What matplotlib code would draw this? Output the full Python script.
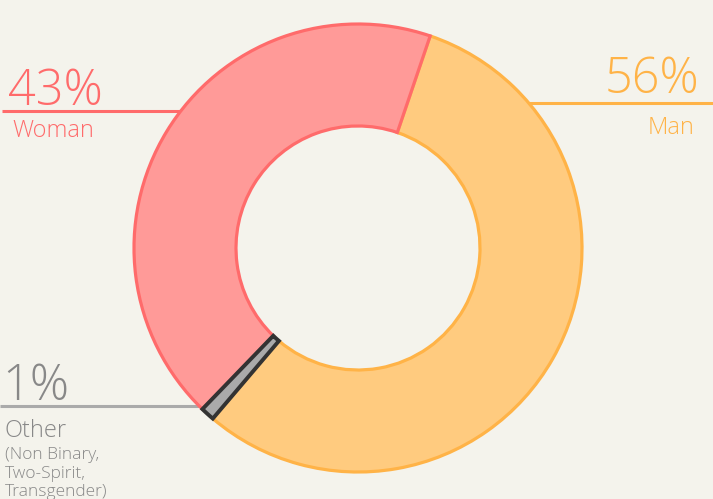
import matplotlib
matplotlib.use("Agg")
import matplotlib.pyplot as plt

# data
labels = ["Man", "Other", "Woman"]
shares = [56, 1, 43]
face_colors = ["#ffcb7f", "#aaaaaa", "#ff9a98"]
edge_colors = ["#ffb347", "#333333", "#ff6b6b"]
pct_labels = ["56%", "1%", "43%"]

bg = "#f4f3ec"
W, H = 713, 499

fig = plt.figure(figsize=(W / 100, H / 100), dpi=100, facecolor=bg)
ax = fig.add_axes([0, 0, 1, 1])
ax.set_facecolor(bg)

cx, cy = 358, H - 248

# leader lines behind the ring
ax.plot([2, 185], [H - 111, H - 111], color="#ff6b6b", lw=2.2, zorder=1, solid_capstyle="butt")
ax.plot([528, 713], [H - 103, H - 103], color="#ffb347", lw=2.2, zorder=1, solid_capstyle="butt")
ax.plot([0, 200], [H - 406, H - 406], color="#aaaaaa", lw=2.2, zorder=1, solid_capstyle="butt")

wedges, _ = ax.pie(shares, center=(cx, cy), radius=224, startangle=71.2,
                   counterclock=False, colors=face_colors,
                   wedgeprops=dict(width=102, linewidth=2.3), frame=True)
for w, ec in zip(wedges, edge_colors):
    w.set_edgecolor(ec)
    w.set_zorder(2)
wedges[1].set_linewidth(2.8)
wedges[1].set_zorder(3)

ax.set_xlim(0, W)
ax.set_ylim(0, H)
ax.set_aspect("equal")
ax.axis("off")

fam = ["Open Sans", "DejaVu Sans"]
big = dict(fontsize=35, family=fam, fontweight="light")
mid = dict(fontsize=17, family=fam, fontweight="light")
small = dict(fontsize=12.5, family=fam, fontweight="light")

# Woman
ax.text(8, H - 105, pct_labels[2], color="#ff6b6b", ha="left", va="baseline", **big)
ax.text(12, H - 137, "Woman", color="#ff6b6b", ha="left", va="baseline", **mid)
# Man
ax.text(699, H - 93, pct_labels[0], color="#ffb347", ha="right", va="baseline", **big)
ax.text(694, H - 134, "Man", color="#ffb347", ha="right", va="baseline", **mid)
# Other
ax.text(2, H - 400, pct_labels[1], color="#888888", ha="left", va="baseline", **big)
ax.text(5, H - 437, "Other", color="#888888", ha="left", va="baseline", **mid)
ax.text(5, H - 459, "(Non Binary,", color="#888888", ha="left", va="baseline", **small)
ax.text(5, H - 478, "Two-Spirit,", color="#888888", ha="left", va="baseline", **small)
ax.text(5, H - 496, "Transgender)", color="#888888", ha="left", va="baseline", **small)

fig.savefig("out.png", dpi=100, facecolor=bg)
